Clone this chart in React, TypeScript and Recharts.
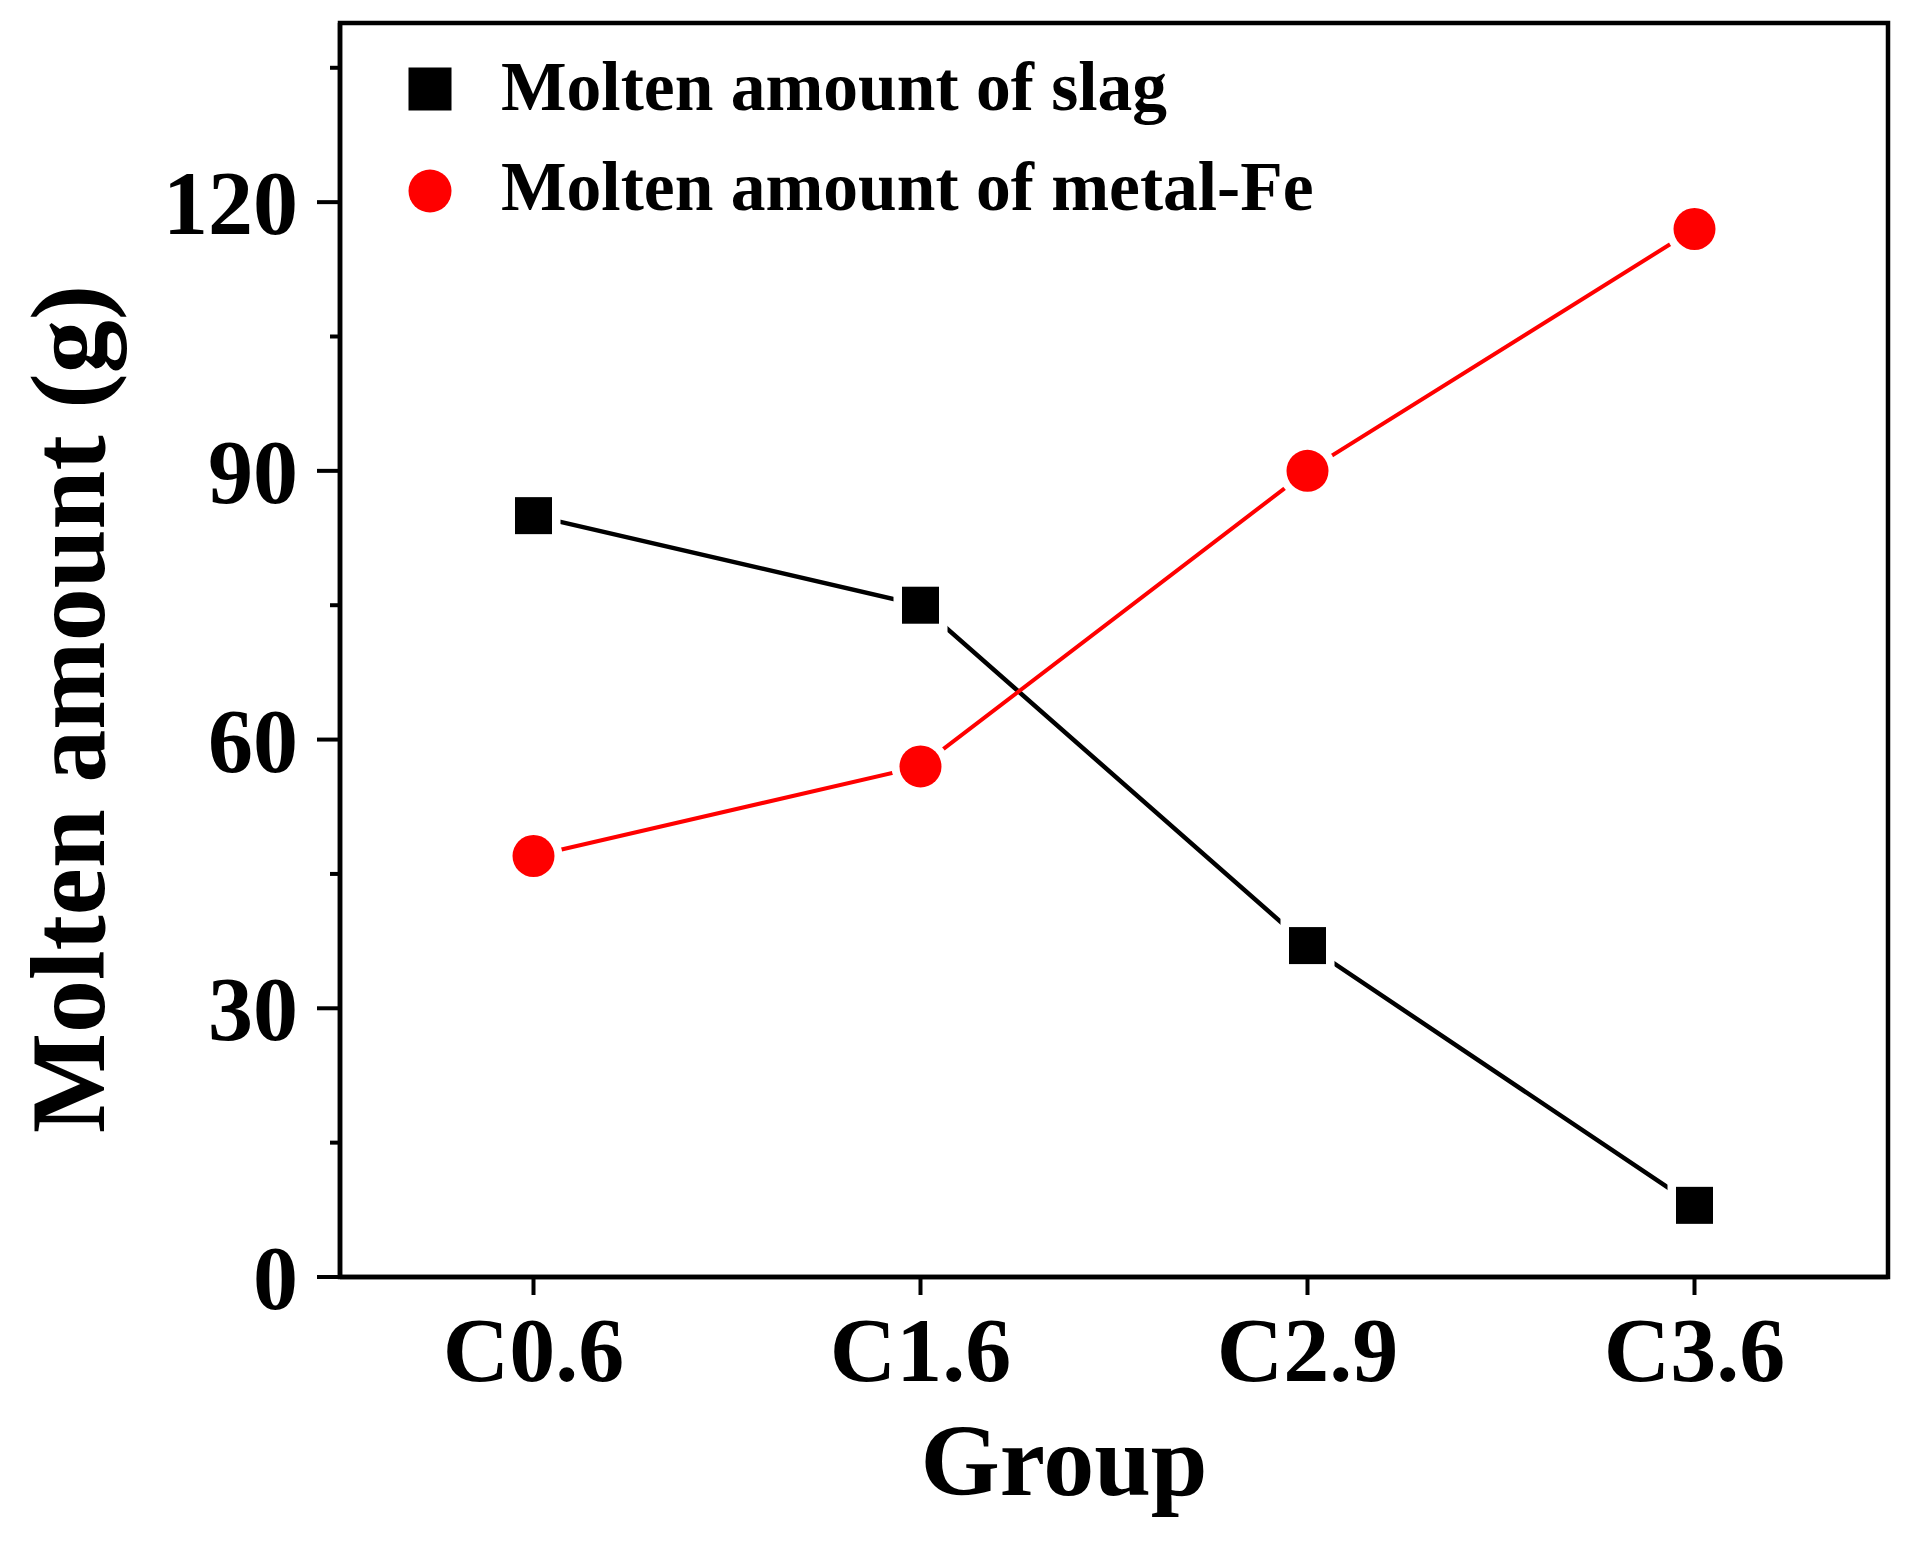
import React from 'react';
import { LineChart, Line, XAxis, YAxis, Legend, ReferenceArea, Label } from 'recharts';

// ---- data ----
const categories = ['C0.6', 'C1.6', 'C2.9', 'C3.6'];
const slagValues = [85, 75, 37, 8];
const metalFeValues = [47, 57, 90, 117];
const yMajorTicks = [0, 30, 60, 90, 120];
const yMinorTicks = [15, 45, 75, 105, 135];
const seriesNames = ['Molten amount of slag', 'Molten amount of metal-Fe'];
const xAxisTitle = 'Group';
const yAxisTitle = 'Molten amount (g)';

const data = categories.map((c, i) => ({
  pos: i + 1,
  group: c,
  slag: slagValues[i],
  fe: metalFeValues[i],
}));
const xTicks = categories.map((_, i) => i + 1);
const yAllTicks = [...yMajorTicks, ...yMinorTicks].sort((a, b) => a - b);

const FONT = '"Liberation Serif", "Times New Roman", Times, serif';
const Y_TICK_SIZE = 23;
const Y_MINOR_SIZE = 10;
const Y_TICK_MARGIN = 19;

const SquareDot = (props: any) => {
  const { cx, cy, index } = props;
  if (cx == null || cy == null) return <g key={`sq-${index}`} />;
  return (
    <g key={`sq-${index}`}>
      <rect x={cx - 27} y={cy - 27} width={54} height={54} fill="#fff" />
      <rect x={cx - 18.5} y={cy - 18.5} width={37} height={37} fill="#000" />
    </g>
  );
};

const CircleDot = (props: any) => {
  const { cx, cy, index } = props;
  if (cx == null || cy == null) return <g key={`ci-${index}`} />;
  return (
    <g key={`ci-${index}`}>
      <circle cx={cx} cy={cy} r={29} fill="#fff" />
      <circle cx={cx} cy={cy} r={21} fill="#ff0000" />
    </g>
  );
};

const YTick = (props: any) => {
  const { x, y, payload } = props;
  const v = payload?.value;
  const isMajor = yMajorTicks.includes(v);
  const axisX = x + Y_TICK_SIZE + Y_TICK_MARGIN;
  return (
    <g>
      <line
        x1={axisX - (isMajor ? Y_TICK_SIZE : Y_MINOR_SIZE)}
        x2={axisX}
        y1={y}
        y2={y}
        stroke="#000"
        strokeWidth={4}
      />
      {isMajor && (
        <text
          x={x}
          y={y}
          dy="0.355em"
          textAnchor="end"
          fontFamily={FONT}
          fontWeight="bold"
          fontSize={90}
          fill="#000"
        >
          {v}
        </text>
      )}
    </g>
  );
};

const LegendContent = () => (
  <svg width={1300} height={240} style={{ overflow: 'visible', display: 'block' }}>
    <rect x={422 - 21.5} y={81 - 21.5} width={43} height={43} fill="#000" />
    <text x={493} y={102} fontFamily={FONT} fontWeight="bold" fontSize={69.5} fill="#000">
      {seriesNames[0]}
    </text>
    <circle cx={422} cy={183} r={21.5} fill="#ff0000" />
    <text x={493} y={202} fontFamily={FONT} fontWeight="bold" fontSize={69.5} fill="#000">
      {seriesNames[1]}
    </text>
  </svg>
);

const xTickStyle = { fontFamily: FONT, fontWeight: 'bold' as const, fontSize: 92, fill: '#000' };

export default function App() {
  return (
    <div style={{ width: 1902, height: 1525 }}>
      <LineChart
        width={1902}
        height={1525}
        data={data}
        margin={{ top: 15, right: 22, bottom: 56, left: 0 }}
      >
        <XAxis
          dataKey="pos"
          type="number"
          domain={[0.5, 4.5]}
          ticks={xTicks}
          interval={0}
          allowDataOverflow
          tickFormatter={(v: number) => categories[v - 1] ?? ''}
          height={200}
          tickSize={18}
          tickMargin={21}
          tick={xTickStyle}
          axisLine={{ stroke: '#000', strokeWidth: 4.5 }}
          tickLine={{ stroke: '#000', strokeWidth: 4 }}
        >
          <Label
            content={(p: any) => {
              const vb = p.viewBox || {};
              return (
                <text
                  x={vb.x + vb.width / 2 - 50}
                  y={vb.y + 218}
                  textAnchor="middle"
                  fontFamily={FONT}
                  fontWeight="bold"
                  fontSize={102}
                  fill="#000"
                >
                  {xAxisTitle}
                </text>
              );
            }}
          />
        </XAxis>
        <YAxis
          yAxisId="main"
          type="number"
          domain={[0, 140]}
          ticks={yAllTicks}
          interval={0}
          allowDataOverflow
          width={332}
          tickSize={Y_TICK_SIZE}
          tickMargin={Y_TICK_MARGIN}
          tick={<YTick />}
          tickLine={false}
          axisLine={{ stroke: '#000', strokeWidth: 4.5 }}
        >
          <Label
            content={(p: any) => {
              const vb = p.viewBox || {};
              const x = 96;
              const y = vb.y + vb.height / 2 + 59;
              return (
                <text
                  x={x}
                  y={y}
                  transform={`rotate(-90, ${x}, ${y})`}
                  textAnchor="middle"
                  fontFamily={FONT}
                  fontWeight="bold"
                  fontSize={106}
                  fill="#000"
                >
                  {yAxisTitle}
                </text>
              );
            }}
          />
        </YAxis>
        <ReferenceArea
          yAxisId="main"
          x1={0.5}
          x2={4.5}
          y1={0}
          y2={140}
          fill="none"
          fillOpacity={0}
          stroke="#000"
          strokeWidth={4.5}
          ifOverflow="visible"
        />
        <Legend
          layout="vertical"
          verticalAlign="middle"
          align="center"
          content={LegendContent}
          wrapperStyle={{ position: 'absolute', left: 0, top: 0, width: 1300, height: 240 }}
        />
        <Line
          yAxisId="main"
          type="linear"
          dataKey="slag"
          name={seriesNames[0]}
          stroke="#000"
          strokeWidth={4.5}
          dot={SquareDot}
          activeDot={false}
          isAnimationActive={false}
        />
        <Line
          yAxisId="main"
          type="linear"
          dataKey="fe"
          name={seriesNames[1]}
          stroke="#ff0000"
          strokeWidth={4}
          dot={CircleDot}
          activeDot={false}
          isAnimationActive={false}
        />
      </LineChart>
    </div>
  );
}
